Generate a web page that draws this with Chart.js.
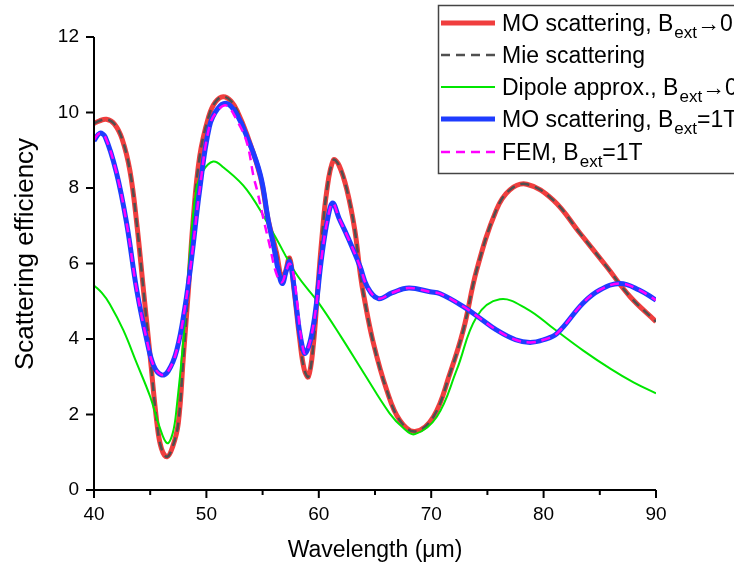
<!DOCTYPE html>
<html>
<head>
<meta charset="utf-8">
<script src="https://cdn.jsdelivr.net/npm/chart.js@4.4.0/dist/chart.umd.min.js"></script>
<style>
  html, body { margin: 0; padding: 0; background: #fff; }
  #wrap { width: 734px; height: 567px; }
</style>
</head>
<body>
<div id="wrap"><canvas id="myChart" width="734" height="567"></canvas></div>
<script>
// MO scattering, B_ext -> 0 (also Mie scattering, same curve)
const moZeroX = [40, 40.5, 41.1, 41.8, 42.5, 43.2, 43.8, 44.4, 45.0, 45.6, 46.0, 46.5, 47.0, 47.5, 47.95, 48.4, 48.8, 49.4, 50.2, 50.8, 51.5, 52.2, 52.8, 53.6, 54.8, 55.5, 56.25, 56.7, 57.0, 57.4, 57.8, 58.3, 58.7, 59.07, 59.5, 59.9, 60.26, 60.7, 61.3, 61.8, 62.5, 63.2, 63.7, 64.0, 64.85, 66.04, 67.2, 68.56, 70.2, 71.67, 72.86, 74.05, 75.8, 77.0, 78.5, 80.86, 83.24, 85.6, 87.7, 90];
const moZeroY = [9.71, 9.78, 9.82, 9.7, 9.3, 8.45, 7.07, 5.3, 3.53, 1.77, 1.1, 0.88, 1.15, 1.77, 3.53, 5.3, 7.07, 8.83, 9.89, 10.28, 10.42, 10.3, 10.0, 9.42, 8.3, 7.15, 6.27, 5.6, 5.75, 6.14, 5.3, 4.0, 3.2, 3.0, 3.8, 5.3, 6.62, 7.9, 8.74, 8.6, 7.95, 6.89, 5.7, 5.15, 3.9, 2.65, 1.85, 1.55, 1.94, 3.09, 4.24, 5.83, 7.42, 7.95, 8.1, 7.68, 6.8, 5.92, 5.12, 4.46];

// Dipole approx., B_ext -> 0
const dipoleX = [40, 40.7, 41.4, 42.6, 43.8, 45.0, 45.8, 46.5, 47.0, 47.36, 47.95, 48.5, 49.1, 49.7, 50.6, 51.5, 53.6, 55.95, 58.0, 60.0, 62.0, 64.0, 66.3, 67.5, 68.56, 70.5, 72.27, 74.05, 76.1, 78.5, 81.0, 83.5, 86.0, 88.0, 90];
const dipoleY = [5.42, 5.22, 4.93, 4.24, 3.36, 2.47, 1.7, 1.24, 1.5, 2.2, 3.97, 6.18, 7.95, 8.45, 8.7, 8.55, 7.95, 6.8, 5.72, 4.95, 4.05, 3.1, 2.03, 1.65, 1.48, 1.94, 3.18, 4.59, 5.05, 4.8, 4.25, 3.7, 3.2, 2.85, 2.56];

// MO scattering, B_ext = 1T
const moOneX = [40, 40.5, 41.0, 42.0, 42.9, 43.8, 44.7, 45.3, 46.0, 46.6, 47.36, 48.1, 48.7, 49.4, 50.26, 51.0, 51.8, 52.6, 53.6, 54.8, 55.5, 56.0, 56.4, 56.75, 57.1, 57.4, 57.7, 58.0, 58.4, 58.8, 59.5, 60.26, 60.8, 61.24, 61.8, 62.5, 63.67, 64.3, 65.3, 66.5, 68.0, 69.9, 70.8, 72.86, 74.34, 75.8, 77.5, 78.8, 80.0, 81.2, 83.5, 85.0, 86.8, 88.5, 90];
const moOneY = [9.25, 9.45, 9.35, 8.4, 7.07, 5.3, 3.97, 3.3, 3.05, 3.15, 3.7, 4.86, 6.18, 7.95, 9.62, 10.1, 10.24, 10.0, 9.36, 8.35, 7.15, 6.44, 5.8, 5.47, 5.8, 6.05, 5.6, 4.86, 4.0, 3.62, 4.33, 6.18, 7.2, 7.6, 7.2, 6.75, 5.92, 5.39, 5.07, 5.22, 5.35, 5.25, 5.2, 4.86, 4.55, 4.24, 3.98, 3.91, 3.98, 4.15, 4.95, 5.3, 5.47, 5.3, 5.03];

// FEM, B_ext = 1T
const femX = [40, 40.5, 41.0, 42.0, 42.9, 43.8, 44.7, 45.3, 46.0, 46.6, 47.36, 48.1, 48.7, 49.4, 50.26, 51.0, 51.8, 52.7, 53.6, 54.2, 54.5, 55.1, 55.66, 56.2, 56.7, 57.1, 57.4, 57.75, 58.1, 58.4, 58.8, 59.5, 60.26, 60.8, 61.24, 61.8, 62.5, 63.67, 64.3, 65.3, 66.5, 68.0, 69.9, 70.8, 72.86, 74.34, 75.8, 77.5, 78.8, 80.0, 81.2, 83.5, 85.0, 86.8, 88.5, 90];
const femY = [9.28, 9.45, 9.35, 8.4, 7.07, 5.3, 3.97, 3.3, 3.05, 3.15, 3.7, 4.86, 6.18, 7.95, 9.62, 10.05, 10.18, 9.8, 9.2, 8.3, 7.95, 7.15, 6.44, 5.75, 5.5, 5.8, 6.0, 5.7, 4.9, 4.1, 3.62, 4.33, 6.18, 7.2, 7.6, 7.2, 6.75, 5.92, 5.39, 5.07, 5.22, 5.35, 5.25, 5.2, 4.86, 4.55, 4.24, 3.98, 3.91, 3.98, 4.15, 4.95, 5.3, 5.47, 5.3, 5.03];

const xMajorTicks = [40, 50, 60, 70, 80, 90];
const xMinorTicks = [45, 55, 65, 75, 85];
const yTicks = [0, 2, 4, 6, 8, 10, 12];

// legend rows: [main text, subscript, tail]
const legendRows = [
  ['MO scattering, B', 'ext', '\u21920'],
  ['Mie scattering', '', ''],
  ['Dipole approx., B', 'ext', '\u21920'],
  ['MO scattering, B', 'ext', '=1T'],
  ['FEM, B', 'ext', '=1T']
];

function toPoints(xs, ys) {
  const pts = [];
  for (var i = 0; i < xs.length; i++) pts.push({ x: xs[i], y: ys[i] });
  return pts;
}

const RED = 'rgba(240, 62, 62, 1)';
const GREY = 'rgba(80, 80, 80, 1)';
const GREEN = 'rgba(0, 230, 0, 1)';
const BLUE = 'rgba(30, 60, 255, 1)';
const MAGENTA = 'rgba(255, 0, 255, 1)';

const styles = [
  { color: RED, width: 5, dash: [] },
  { color: GREY, width: 2.5, dash: [9, 6] },
  { color: GREEN, width: 2, dash: [] },
  { color: BLUE, width: 5, dash: [] },
  { color: MAGENTA, width: 2.5, dash: [9, 6] }
];

function line(label, pts, st, order) {
  return {
    label: label,
    data: pts,
    showLine: true,
    borderColor: st.color,
    backgroundColor: st.color,
    borderWidth: st.width,
    borderDash: st.dash,
    pointRadius: 0,
    fill: false,
    tension: 0.4,
    order: order
  };
}

const FONT = '"Liberation Sans", Arial, sans-serif';

// ticks, axis titles and legend box
const decorPlugin = {
  id: 'decor',
  afterDraw(chart) {
    const ctx = chart.ctx;
    const xs = chart.scales.x, ys = chart.scales.y;
    const area = chart.chartArea;
    ctx.save();
    ctx.strokeStyle = '#000';
    ctx.lineWidth = 2;
    ctx.setLineDash([]);
    // axis lines
    ctx.beginPath();
    ctx.moveTo(area.left, area.top);
    ctx.lineTo(area.left, area.bottom);
    ctx.lineTo(area.right, area.bottom);
    ctx.stroke();
    // x ticks
    ctx.fillStyle = '#000';
    ctx.font = '19px ' + FONT;
    ctx.textAlign = 'center';
    ctx.textBaseline = 'middle';
    xMajorTicks.forEach(v => {
      const px = xs.getPixelForValue(v);
      ctx.beginPath(); ctx.moveTo(px, area.bottom); ctx.lineTo(px, area.bottom + 8); ctx.stroke();
      ctx.fillText(String(v), px, area.bottom + 25);
    });
    xMinorTicks.forEach(v => {
      const px = xs.getPixelForValue(v);
      ctx.beginPath(); ctx.moveTo(px, area.bottom); ctx.lineTo(px, area.bottom + 5); ctx.stroke();
    });
    // y ticks
    ctx.textAlign = 'right';
    yTicks.forEach(v => {
      const py = ys.getPixelForValue(v);
      ctx.beginPath(); ctx.moveTo(area.left, py); ctx.lineTo(area.left - 8, py); ctx.stroke();
      ctx.fillText(String(v), area.left - 15, py);
    });
    // axis titles
    ctx.font = '23px ' + FONT;
    ctx.textAlign = 'center';
    ctx.fillText('Wavelength (\u03bcm)', (area.left + area.right) / 2, 551);
    ctx.save();
    ctx.translate(26, 254);
    ctx.rotate(-Math.PI / 2);
    ctx.font = '26px ' + FONT;
    ctx.fillText('Scattering efficiency', 0, 0);
    ctx.restore();

    // legend
    ctx.fillStyle = '#fff';
    ctx.fillRect(438, 5, 320, 169);
    ctx.strokeStyle = '#444';
    ctx.lineWidth = 1.5;
    ctx.strokeRect(438.5, 5.5, 320, 168);
    const rowY = [23, 55, 87, 119, 152];
    legendRows.forEach((row, i) => {
      const st = styles[i];
      const y = rowY[i];
      ctx.strokeStyle = st.color;
      ctx.lineWidth = st.width;
      ctx.setLineDash(st.dash);
      ctx.beginPath(); ctx.moveTo(441, y); ctx.lineTo(495, y); ctx.stroke();
      ctx.setLineDash([]);
      ctx.fillStyle = '#000';
      ctx.textAlign = 'left';
      ctx.textBaseline = 'alphabetic';
      ctx.font = '23px ' + FONT;
      let x = 502;
      const base = y + 8;
      ctx.fillText(row[0], x, base);
      x += ctx.measureText(row[0]).width;
      if (row[1]) {
        ctx.font = '17px ' + FONT;
        ctx.fillText(row[1], x + 1, base + 7);
        x += ctx.measureText(row[1]).width + 1;
        ctx.font = '23px ' + FONT;
        ctx.fillText(row[2], x, base);
      }
    });
    ctx.restore();
  }
};

const ctx = document.getElementById('myChart').getContext('2d');
const myChart = new Chart(ctx, {
  type: 'scatter',
  data: {
    datasets: [
      line('MO scattering, B_ext\u21920', toPoints(moZeroX, moZeroY), styles[0], 5),
      line('Mie scattering', toPoints(moZeroX, moZeroY), styles[1], 4),
      line('Dipole approx., B_ext\u21920', toPoints(dipoleX, dipoleY), styles[2], 3),
      line('MO scattering, B_ext=1T', toPoints(moOneX, moOneY), styles[3], 2),
      line('FEM, B_ext=1T', toPoints(femX, femY), styles[4], 1)
    ]
  },
  options: {
    responsive: false,
    animation: false,
    layout: { padding: { left: 0, right: 78, top: 37, bottom: 0 } },
    plugins: {
      legend: { display: false },
      tooltip: { enabled: false }
    },
    scales: {
      x: {
        type: 'linear', min: 40, max: 90,
        grid: { display: false, drawTicks: false },
        border: { display: false },
        ticks: { display: false },
        afterFit(scale) { scale.height = 77; }
      },
      y: {
        type: 'linear', min: 0, max: 12,
        grid: { display: false, drawTicks: false },
        border: { display: false },
        ticks: { display: false },
        afterFit(scale) { scale.width = 94; }
      }
    }
  },
  plugins: [decorPlugin]
});
</script>
</body>
</html>
